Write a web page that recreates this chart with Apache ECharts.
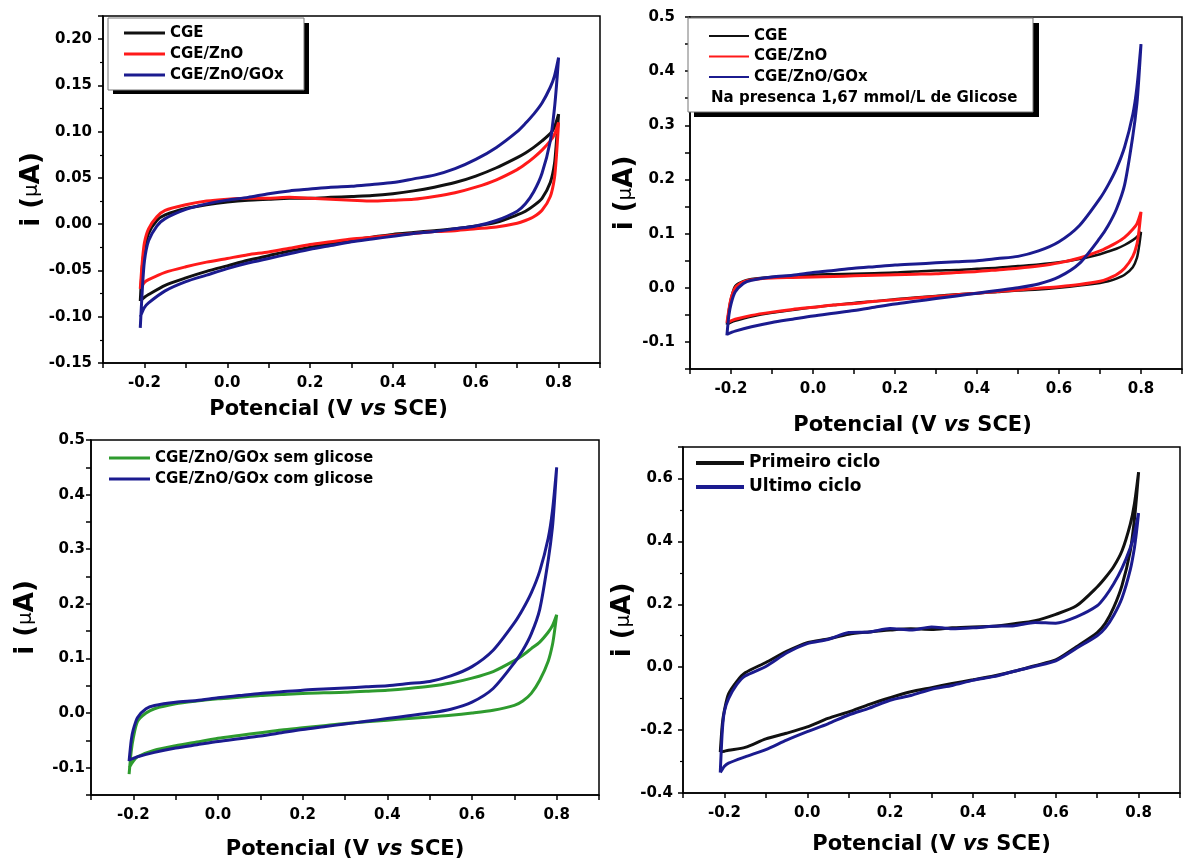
<!DOCTYPE html>
<html><head><meta charset="utf-8">
<script src="https://cdn.jsdelivr.net/npm/echarts@6/dist/echarts.min.js"></script>
<style>html,body{margin:0;padding:0;background:#fff}#c{width:1185px;height:861px}</style>
</head><body><div id="c"></div>
<script>
// Potential grid (V vs SCE): forward (ida) and reverse (volta) sweeps
const E_ida = [-0.21,-0.205,-0.2,-0.19,-0.17,-0.15,-0.1,-0.05,0,0.05,0.1,0.15,0.2,0.25,0.3,0.35,0.4,0.45,0.5,0.55,0.6,0.65,0.7,0.72,0.74,0.76,0.78,0.79,0.8];
const E_volta = [0.8,0.795,0.79,0.78,0.76,0.74,0.72,0.7,0.65,0.6,0.55,0.5,0.45,0.4,0.35,0.3,0.25,0.2,0.15,0.1,0.05,0,-0.05,-0.1,-0.15,-0.19,-0.2,-0.21];

// Panel A (top-left)
const a_cge_ida = [-0.083,-0.045,-0.028,-0.01,0.004,0.010,0.017,0.021,0.024,0.026,0.027,0.028,0.028,0.029,0.030,0.031,0.033,0.036,0.040,0.045,0.052,0.061,0.072,0.077,0.083,0.090,0.098,0.105,0.119];
const a_cge_volta = [0.119,0.09,0.065,0.045,0.028,0.02,0.014,0.01,0.002,-0.002,-0.005,-0.007,-0.009,-0.011,-0.014,-0.017,-0.021,-0.025,-0.029,-0.034,-0.039,-0.045,-0.051,-0.058,-0.066,-0.076,-0.079,-0.083];
const a_zno_ida = [-0.07,-0.04,-0.02,-0.005,0.008,0.015,0.021,0.025,0.027,0.028,0.028,0.029,0.028,0.027,0.026,0.025,0.026,0.027,0.030,0.034,0.040,0.048,0.059,0.065,0.072,0.080,0.090,0.097,0.11];
const a_zno_volta = [0.11,0.075,0.05,0.03,0.015,0.008,0.004,0.001,-0.003,-0.005,-0.007,-0.008,-0.010,-0.012,-0.014,-0.016,-0.019,-0.022,-0.026,-0.03,-0.033,-0.037,-0.041,-0.046,-0.052,-0.06,-0.063,-0.07];
const a_gox_ida = [-0.112,-0.07,-0.04,-0.018,-0.002,0.006,0.016,0.022,0.026,0.029,0.033,0.036,0.038,0.040,0.041,0.043,0.045,0.049,0.053,0.06,0.07,0.083,0.100,0.109,0.119,0.131,0.148,0.16,0.18];
const a_gox_volta = [0.18,0.15,0.125,0.09,0.055,0.035,0.022,0.014,0.004,-0.002,-0.005,-0.008,-0.010,-0.013,-0.016,-0.019,-0.023,-0.027,-0.032,-0.037,-0.042,-0.048,-0.055,-0.062,-0.072,-0.085,-0.09,-0.1];

// Panel B (top-right), with 1,67 mmol/L glucose
const b_cge_ida = [-0.068,-0.04,-0.02,0.003,0.012,0.016,0.02,0.022,0.024,0.025,0.026,0.027,0.028,0.03,0.032,0.033,0.035,0.037,0.04,0.043,0.047,0.053,0.062,0.067,0.072,0.079,0.088,0.094,0.103];
const b_cge_volta = [0.103,0.075,0.055,0.038,0.024,0.017,0.012,0.009,0.004,0.0,-0.003,-0.005,-0.008,-0.01,-0.012,-0.015,-0.018,-0.021,-0.025,-0.028,-0.032,-0.036,-0.041,-0.046,-0.053,-0.061,-0.064,-0.068];
const b_zno_ida = [-0.065,-0.04,-0.02,0.0,0.011,0.015,0.018,0.019,0.02,0.021,0.022,0.023,0.024,0.025,0.026,0.028,0.03,0.033,0.036,0.04,0.046,0.055,0.068,0.075,0.083,0.093,0.108,0.118,0.14];
const b_zno_volta = [0.14,0.105,0.08,0.058,0.036,0.024,0.017,0.012,0.006,0.002,-0.001,-0.004,-0.007,-0.01,-0.013,-0.016,-0.019,-0.022,-0.025,-0.029,-0.032,-0.036,-0.04,-0.045,-0.051,-0.058,-0.061,-0.065];
const b_gox_ida = [-0.088,-0.05,-0.03,-0.008,0.008,0.014,0.02,0.023,0.028,0.032,0.036,0.039,0.042,0.044,0.046,0.048,0.05,0.054,0.058,0.068,0.085,0.115,0.165,0.19,0.22,0.26,0.32,0.37,0.45];
const b_gox_volta = [0.45,0.39,0.34,0.28,0.19,0.145,0.115,0.092,0.045,0.02,0.007,0.0,-0.005,-0.01,-0.015,-0.02,-0.025,-0.03,-0.036,-0.042,-0.047,-0.052,-0.058,-0.064,-0.072,-0.08,-0.083,-0.086];

// Panel C (bottom-left)
const c_sem_ida = [-0.112,-0.07,-0.045,-0.015,0.0,0.008,0.017,0.022,0.026,0.029,0.032,0.034,0.036,0.037,0.038,0.040,0.042,0.045,0.049,0.055,0.064,0.076,0.096,0.106,0.118,0.13,0.148,0.16,0.18];
const c_sem_volta = [0.18,0.15,0.125,0.095,0.06,0.036,0.022,0.014,0.005,0.0,-0.004,-0.007,-0.010,-0.013,-0.016,-0.019,-0.023,-0.027,-0.031,-0.036,-0.041,-0.046,-0.053,-0.06,-0.068,-0.08,-0.088,-0.1];
const c_com_ida = b_gox_ida;
const c_com_volta = b_gox_volta;

// Panel D (bottom-right)
const d_prim_ida = [-0.27,-0.18,-0.137,-0.085,-0.045,-0.018,0.015,0.05,0.078,0.09,0.105,0.112,0.118,0.122,0.12,0.125,0.128,0.13,0.138,0.148,0.168,0.195,0.255,0.285,0.32,0.37,0.455,0.52,0.62];
const d_prim_volta = [0.62,0.54,0.47,0.37,0.26,0.19,0.14,0.11,0.065,0.023,0.005,-0.013,-0.028,-0.04,-0.052,-0.065,-0.078,-0.097,-0.118,-0.142,-0.163,-0.19,-0.21,-0.228,-0.255,-0.264,-0.267,-0.27];
const d_ult_ida = [-0.335,-0.2,-0.14,-0.1,-0.055,-0.028,0.002,0.045,0.075,0.088,0.11,0.112,0.123,0.118,0.128,0.122,0.125,0.13,0.132,0.142,0.14,0.16,0.195,0.225,0.265,0.315,0.38,0.425,0.49];
const d_ult_volta = [0.49,0.43,0.38,0.31,0.22,0.165,0.125,0.1,0.06,0.02,0.003,-0.013,-0.03,-0.042,-0.058,-0.07,-0.09,-0.105,-0.13,-0.152,-0.18,-0.205,-0.232,-0.262,-0.285,-0.305,-0.315,-0.335];

// Tick labels
const xTickLabels = [-0.2, 0.0, 0.2, 0.4, 0.6, 0.8];
const yTickLabelsA = [-0.15, -0.10, -0.05, 0.00, 0.05, 0.10, 0.15, 0.20];
const yTickLabelsBC = [-0.1, 0.0, 0.1, 0.2, 0.3, 0.4, 0.5];
const yTickLabelsD = [-0.4, -0.2, 0.0, 0.2, 0.4, 0.6];

const FF = "'DejaVu Sans', sans-serif";
const C_BLACK = '#111111', C_RED = '#ff1a1a', C_BLUE = '#1b1b8f', C_GREEN = '#2e9b2e';

function loop(ida, volta) {
  return E_ida.map((e, i) => [e, ida[i]]).concat(E_volta.map((e, i) => [e, volta[i]]));
}
function labelFmt(list, dec) {
  return function (v) {
    for (const t of list) if (Math.abs(t - v) < 1e-6) return t.toFixed(dec);
    return '';
  };
}
const xName = '{n|Potencial (V }{it|vs}{n| SCE)}';
const xRich = {
  n: { fontFamily: FF, fontWeight: 'bold', fontSize: 21, color: '#000' },
  it: { fontFamily: FF, fontWeight: 'bold', fontStyle: 'italic', fontSize: 21, color: '#000' }
};
const yName = '{n|i (}{mu|\u03bc}{n|A)}';
const yRich = {
  n: { fontFamily: FF, fontWeight: 'bold', fontSize: 26, color: '#000' },
  mu: { fontFamily: FF, fontWeight: 'normal', fontSize: 20, color: '#000' }
};
const axisLineStyle = { color: '#000', width: 1.5 };

function xAx(g, margin, gap, padR) {
  return {
    type: 'value', gridIndex: g, min: -0.3, max: 0.9, interval: 0.1,
    axisLine: { show: true, onZero: false, lineStyle: axisLineStyle },
    axisTick: { show: true, inside: false, length: 5, lineStyle: axisLineStyle },
    splitLine: { show: false },
    axisLabel: { margin: margin, fontFamily: FF, fontWeight: 'bold', fontSize: 15, color: '#000', formatter: labelFmt(xTickLabels, 1) },
    name: xName, nameLocation: 'middle', nameGap: gap,
    nameTextStyle: { padding: [0, padR, 0, 0], rich: xRich }
  };
}
function yAx(g, min, max, interval, labels, dec, minor, margin, gap) {
  return {
    type: 'value', gridIndex: g, min: min, max: max, interval: interval,
    axisLine: { show: true, onZero: false, lineStyle: axisLineStyle },
    axisTick: { show: true, inside: false, length: 5, lineStyle: axisLineStyle },
    minorTick: { show: minor, splitNumber: 2, length: 3, lineStyle: { color: '#000', width: 1.2 } },
    splitLine: { show: false },
    axisLabel: { margin: margin, fontFamily: FF, fontWeight: 'bold', fontSize: 15, color: '#000', formatter: labelFmt(labels, dec) },
    name: yName, nameLocation: 'middle', nameGap: gap, nameRotate: 90,
    nameTextStyle: { rich: yRich }
  };
}
function ser(name, g, ida, volta, color, width) {
  return {
    name: name, type: 'line', xAxisIndex: g, yAxisIndex: g,
    data: loop(ida, volta), symbol: 'none', showSymbol: false, smooth: 0.25,
    lineStyle: { color: color, width: width }, itemStyle: { color: color },
    clip: true, animation: false
  };
}
function leg(names, left, top, w, h, gap, fs, lh) {
  return {
    orient: 'vertical', left: left, top: top, padding: 0, itemGap: gap,
    itemWidth: w, itemHeight: h, icon: 'rect', selectedMode: false, z: 30,
    data: names,
    textStyle: { fontFamily: FF, fontWeight: 'bold', fontSize: fs, color: '#000', lineHeight: lh }
  };
}

const gridStyle = { show: true, borderColor: '#000', borderWidth: 1.5, backgroundColor: 'transparent' };
const option = {
  backgroundColor: '#ffffff',
  animation: false,
  grid: [
    Object.assign({ left: 103, top: 16, width: 497, height: 347 }, gridStyle),
    Object.assign({ left: 690, top: 17, width: 503.5, height: 352 }, gridStyle),
    Object.assign({ left: 91, top: 440, width: 508, height: 356 }, gridStyle),
    Object.assign({ left: 683, top: 447, width: 497, height: 346 }, gridStyle)
  ],
  xAxis: [xAx(0, 13, 36, 46), xAx(1, 13, 46, 47), xAx(2, 13, 44, 0), xAx(3, 13, 41, 0)],
  yAxis: [
    yAx(0, -0.15, 0.225, 0.05, yTickLabelsA, 2, true, 11, 58),
    yAx(1, -0.15, 0.5, 0.05, yTickLabelsBC, 1, false, 15, 50),
    yAx(2, -0.15, 0.5, 0.05, yTickLabelsBC, 1, false, 6, 52),
    yAx(3, -0.4, 0.7, 0.2, yTickLabelsD, 1, true, 10, 45)
  ],
  legend: [
    leg(['CGE', 'CGE/ZnO', 'CGE/ZnO/GOx'], 124, 25, 41, 3, 5, 15, 16),
    leg(['CGE', 'CGE/ZnO', 'CGE/ZnO/GOx'], 709, 28, 40, 2, 4.5, 15, 16),
    leg(['CGE/ZnO/GOx sem glicose', 'CGE/ZnO/GOx com glicose'], 109, 450, 41, 3, 5, 15, 16),
    leg(['Primeiro ciclo', 'Ultimo ciclo'], 696, 454, 48, 4, 6, 17, 18)
  ],
  graphic: [
    { type: 'rect', z: 10, shape: { x: 113, y: 23, width: 196, height: 71 }, style: { fill: '#000' } },
    { type: 'rect', z: 11, shape: { x: 108, y: 18, width: 196, height: 72 }, style: { fill: '#fff', stroke: '#777', lineWidth: 1 } },
    { type: 'rect', z: 10, shape: { x: 694, y: 23, width: 345, height: 94 }, style: { fill: '#000' } },
    { type: 'rect', z: 11, shape: { x: 688, y: 18, width: 345, height: 94 }, style: { fill: '#fff', stroke: '#777', lineWidth: 1 } },
    { type: 'text', z: 30, left: 711, top: 91, style: { text: 'Na presenca 1,67 mmol/L de Glicose', font: "bold 15px 'DejaVu Sans', sans-serif", fill: '#000' } }
  ],
  series: [
    ser('CGE', 0, a_cge_ida, a_cge_volta, C_BLACK, 3),
    ser('CGE/ZnO', 0, a_zno_ida, a_zno_volta, C_RED, 3),
    ser('CGE/ZnO/GOx', 0, a_gox_ida, a_gox_volta, C_BLUE, 3),
    ser('CGE', 1, b_cge_ida, b_cge_volta, C_BLACK, 2.5),
    ser('CGE/ZnO', 1, b_zno_ida, b_zno_volta, C_RED, 3),
    ser('CGE/ZnO/GOx', 1, b_gox_ida, b_gox_volta, C_BLUE, 3),
    ser('CGE/ZnO/GOx sem glicose', 2, c_sem_ida, c_sem_volta, C_GREEN, 3),
    ser('CGE/ZnO/GOx com glicose', 2, c_com_ida, c_com_volta, C_BLUE, 3),
    ser('Primeiro ciclo', 3, d_prim_ida, d_prim_volta, C_BLACK, 3),
    ser('Ultimo ciclo', 3, d_ult_ida, d_ult_volta, C_BLUE, 3)
  ]
};
const chart = echarts.init(document.getElementById('c'), null, { renderer: 'canvas' });
chart.setOption(option);
</script>
</body></html>
